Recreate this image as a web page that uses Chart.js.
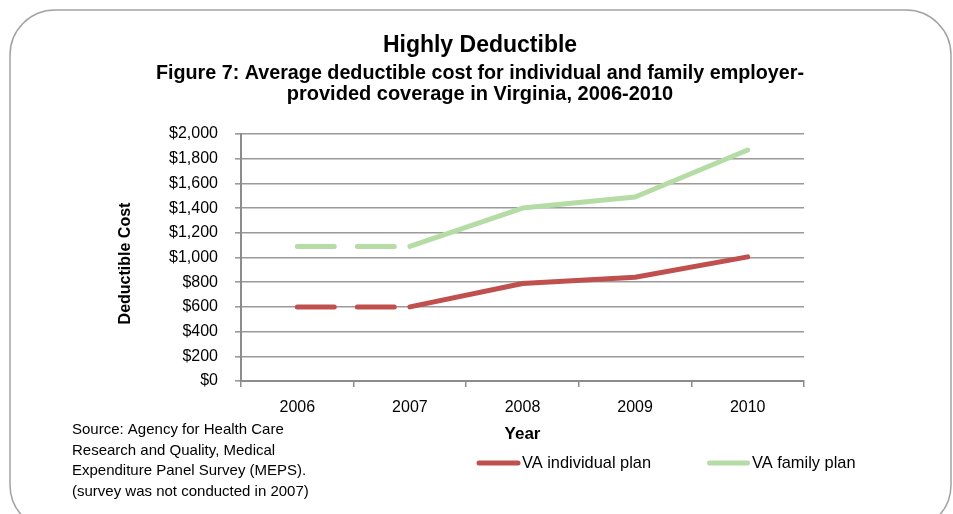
<!DOCTYPE html>
<html>
<head>
<meta charset="utf-8">
<title>Highly Deductible</title>
<script src="https://cdn.jsdelivr.net/npm/chart.js@4.4.1/dist/chart.umd.min.js"></script>
<style>
  html, body { margin: 0; padding: 0; background: #ffffff; }
  #wrap { width: 953px; height: 514px; }
</style>
</head>
<body>
<div id="wrap"><canvas id="chart" width="953" height="514"></canvas></div>
<script>
// Average deductible (USD), Virginia employer-provided coverage
const years = ['2006', '2007', '2008', '2009', '2010'];
const individualPlan = [600, 600, 790, 840, 1005];
const familyPlan = [1090, 1090, 1400, 1490, 1870];
// 2007 had no survey; the segment leading into it is drawn dashed
const notSurveyed = [false, true, false, false, false];

const yMin = 0;
const yMax = 2000;
const yStep = 200;

const sourceLines = [
  'Source: Agency for Health Care',
  'Research and Quality, Medical',
  'Expenditure Panel Survey (MEPS).',
  '(survey was not conducted in 2007)'
];

const FONT = "'Liberation Sans', Arial, Helvetica, sans-serif";
const RED = '#c0504d';
const GREEN = '#b6dca6';
const GRID = '#9a9a9a';
const AXIS = '#8c8c8c';

Chart.defaults.font.family = FONT;
Chart.defaults.color = '#000000';

const dashSegment = ctx => notSurveyed[ctx.p1DataIndex] ? [37, 23] : undefined;

// Frame, rotated axis title, legend and source note
const decorations = {
  id: 'decorations',
  beforeDraw(chart) {
    const ctx = chart.ctx;
    ctx.save();
    ctx.fillStyle = '#ffffff';
    ctx.fillRect(0, 0, chart.width, chart.height);
    ctx.beginPath();
    ctx.roundRect(10, 10, 941, 520, 45);
    ctx.strokeStyle = '#a2a2a2';
    ctx.lineWidth = 1.5;
    ctx.stroke();
    ctx.restore();
  },
  afterDraw(chart) {
    const ctx = chart.ctx;
    ctx.save();

    // y-axis title
    ctx.translate(125.5, 263.5);
    ctx.rotate(-Math.PI / 2);
    ctx.font = 'bold 16px ' + FONT;
    ctx.fillStyle = '#000';
    ctx.textAlign = 'center';
    ctx.textBaseline = 'middle';
    ctx.fillText('Deductible Cost', 0, 0);
    ctx.setTransform(1, 0, 0, 1, 0, 0);

    // legend
    const legendY = 463;
    const items = [
      { ds: chart.data.datasets[0], x0: 479, x1: 518, tx: 522 },
      { ds: chart.data.datasets[1], x0: 709.5, x1: 747.5, tx: 752 }
    ];
    ctx.font = '16.4px ' + FONT;
    ctx.textAlign = 'left';
    ctx.textBaseline = 'middle';
    items.forEach(it => {
      ctx.beginPath();
      ctx.moveTo(it.x0, legendY);
      ctx.lineTo(it.x1, legendY);
      ctx.strokeStyle = it.ds.borderColor;
      ctx.lineWidth = 5;
      ctx.lineCap = 'round';
      ctx.stroke();
      ctx.fillStyle = '#000';
      ctx.fillText(it.ds.label, it.tx, legendY);
    });

    // source note
    ctx.font = '15px ' + FONT;
    sourceLines.forEach((line, i) => {
      ctx.fillText(line, 72, 430 + i * 20.5);
    });
    ctx.restore();
  }
};

new Chart(document.getElementById('chart'), {
  type: 'line',
  data: {
    labels: years,
    datasets: [
      {
        label: 'VA individual plan',
        data: individualPlan,
        borderColor: RED,
        backgroundColor: RED,
        borderWidth: 5,
        borderCapStyle: 'round',
        borderJoinStyle: 'round',
        pointRadius: 0,
        pointHoverRadius: 0,
        tension: 0,
        segment: { borderDash: dashSegment }
      },
      {
        label: 'VA family plan',
        data: familyPlan,
        borderColor: GREEN,
        backgroundColor: GREEN,
        borderWidth: 5,
        borderCapStyle: 'round',
        borderJoinStyle: 'round',
        pointRadius: 0,
        pointHoverRadius: 0,
        tension: 0,
        segment: { borderDash: dashSegment }
      }
    ]
  },
  options: {
    responsive: false,
    animation: false,
    layout: { padding: { left: 156, right: 149, top: 0, bottom: 0 } },
    plugins: {
      legend: { display: false },
      tooltip: { enabled: false },
      title: {
        display: true,
        text: 'Highly Deductible',
        color: '#000',
        font: { size: 23, weight: 'bold' },
        padding: { top: 31.7, bottom: 0 }
      },
      subtitle: {
        display: true,
        text: [
          'Figure 7: Average deductible cost for individual and family employer-',
          'provided coverage in Virginia, 2006-2010'
        ],
        color: '#000',
        font: { size: 20, weight: 'bold', lineHeight: 1.085 },
        padding: { top: 2.85, bottom: 28.45 }
      }
    },
    scales: {
      x: {
        offset: true,
        afterFit(scale) { scale.height = 133; },
        grid: {
          offset: true,
          drawOnChartArea: false,
          drawTicks: true,
          tickLength: 6,
          color: AXIS,
          lineWidth: 1.5
        },
        border: { color: AXIS, width: 2 },
        ticks: {
          color: '#000',
          font: { size: 16 },
          padding: 11,
          maxRotation: 0
        },
        title: {
          display: true,
          text: 'Year',
          color: '#000',
          font: { size: 17, weight: 'bold' },
          padding: { top: 0, bottom: 69 }
        }
      },
      y: {
        min: yMin,
        max: yMax,
        afterFit(scale) { scale.width = 85; },
        grid: {
          color: GRID,
          lineWidth: 1.6,
          tickLength: 6
        },
        border: { color: AXIS, width: 2 },
        ticks: {
          stepSize: yStep,
          color: '#000',
          font: { size: 16 },
          padding: 17,
          callback: v => '$' + Number(v).toLocaleString('en-US')
        }
      }
    }
  },
  plugins: [decorations]
});
</script>
</body>
</html>
